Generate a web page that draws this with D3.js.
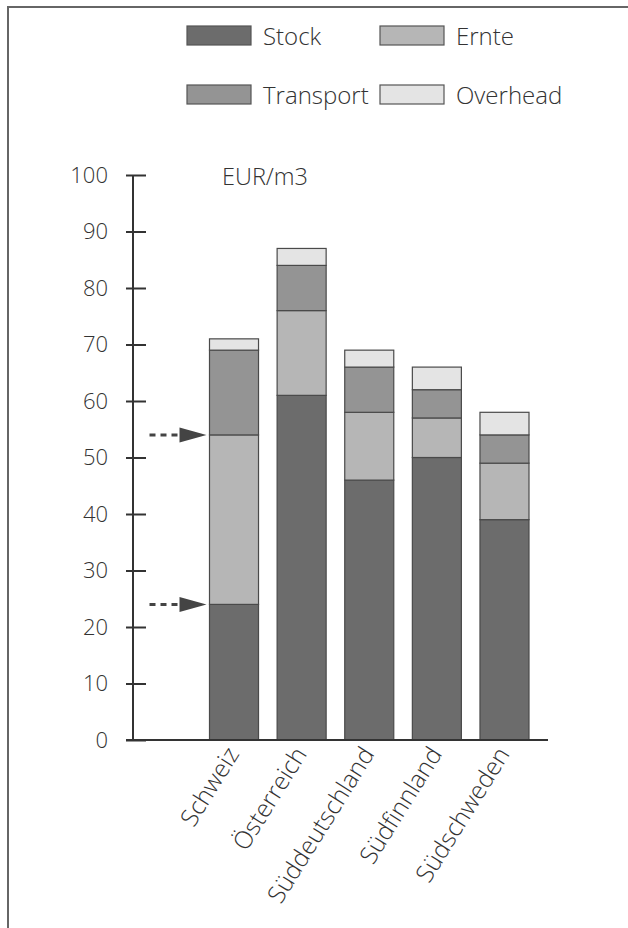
<!DOCTYPE html>
<html>
<head>
<meta charset="utf-8">
<script src="https://cdn.jsdelivr.net/npm/d3@7"></script>
<style>
  body { margin: 0; background: #fff; }
  svg { display: block; font-family: "Open Sans", sans-serif; font-weight: 300; }
</style>
</head>
<body>
<svg id="chart"></svg>
<script>
let w = 628;
let h = 928;

// data (EUR/m3)
let countries = ['Schweiz', 'Österreich', 'Süddeutschland', 'Südfinnland', 'Südschweden'];
let stock = [24, 61, 46, 50, 39];
let ernte = [30, 15, 12, 7, 10];
let transport = [15, 8, 8, 5, 5];
let overhead = [2, 3, 3, 4, 4];
let seriesNames = ['Stock', 'Ernte', 'Transport', 'Overhead'];
let yTicks = [0, 10, 20, 30, 40, 50, 60, 70, 80, 90, 100];
let arrowValues = [24, 54];
let unitLabel = 'EUR/m3';

let colors = {
  Stock: '#6c6c6c',
  Ernte: '#b6b6b6',
  Transport: '#949494',
  Overhead: '#e4e4e4'
};

let dataset = countries.map((c, i) => ({
  country: c,
  Stock: stock[i],
  Ernte: ernte[i],
  Transport: transport[i],
  Overhead: overhead[i]
}));

let svg = d3.select('#chart').attr('width', w).attr('height', h);

// frame (only top + left visible in the scan)
svg.append('rect')
  .attr('x', 8).attr('y', 7)
  .attr('width', 700).attr('height', 1000)
  .attr('fill', 'none')
  .attr('stroke', '#666')
  .attr('stroke-width', 2);

let axisX = 133;
let xScale = d3.scaleBand()
  .domain(countries)
  .range([209.5, 529])
  .paddingInner(0.275)
  .paddingOuter(0);

let yScale = d3.scaleLinear()
  .domain([0, 100])
  .range([740, 175]);

let stackGen = d3.stack().keys(seriesNames);
let layers = stackGen(dataset);

// bars
svg.selectAll('g.layer')
  .data(layers)
  .enter()
  .append('g')
  .attr('class', 'layer')
  .attr('fill', (d) => colors[d.key])
  .selectAll('rect')
  .data((d) => d)
  .enter()
  .append('rect')
  .attr('x', (d) => xScale(d.data.country))
  .attr('y', (d) => yScale(d[1]))
  .attr('width', xScale.bandwidth())
  .attr('height', (d) => yScale(d[0]) - yScale(d[1]))
  .attr('stroke', '#4a4a4a')
  .attr('stroke-width', 1.2);

// Y axis
let yAxis = d3.axisLeft(yScale).tickValues(yTicks).tickSize(7);
let yAxisGroup = svg.append('g')
  .attr('transform', `translate(${axisX},0)`)
  .call(yAxis);
yAxisGroup.select('.domain').remove();
yAxisGroup.selectAll('.tick line')
  .attr('x1', -7).attr('x2', 13)
  .attr('stroke', '#333').attr('stroke-width', 2);
yAxisGroup.selectAll('.tick text')
  .attr('x', -25)
  .attr('fill', '#333')
  .style('font-family', '"Open Sans", sans-serif')
  .style('font-weight', 300)
  .style('font-size', '22px');
yAxisGroup.append('line')
  .attr('x1', 0).attr('x2', 0)
  .attr('y1', yScale(100)).attr('y2', yScale(0))
  .attr('stroke', '#333').attr('stroke-width', 2);

// X axis
let xAxis = d3.axisBottom(xScale).tickSize(0);
let xAxisGroup = svg.append('g')
  .attr('transform', `translate(0, ${yScale(0)})`)
  .call(xAxis);
xAxisGroup.select('.domain').remove();
xAxisGroup.append('line')
  .attr('x1', axisX - 7).attr('x2', 548)
  .attr('y1', 0).attr('y2', 0)
  .attr('stroke', '#333').attr('stroke-width', 2);
xAxisGroup.selectAll('.tick text')
  .attr('text-anchor', 'end')
  .attr('x', 0).attr('y', 0).attr('dy', 0)
  .attr('transform', 'translate(6,14) rotate(-58)')
  .attr('fill', '#333')
  .style('font-family', '"Open Sans", sans-serif')
  .style('font-weight', 300)
  .style('font-size', '24.5px');

// unit label
svg.append('text')
  .attr('x', 222)
  .attr('y', yScale(100) + 10)
  .attr('fill', '#333')
  .style('font-size', '23.5px')
  .text(unitLabel);

// arrows pointing at the Schweiz bar
let barLeft = xScale(countries[0]);
let arrows = svg.selectAll('g.arrow')
  .data(arrowValues)
  .enter()
  .append('g')
  .attr('class', 'arrow')
  .attr('transform', (d) => `translate(${barLeft - 3}, ${yScale(d)})`);
arrows.append('line')
  .attr('x1', -57).attr('x2', -27)
  .attr('y1', 0).attr('y2', 0)
  .attr('stroke', '#444').attr('stroke-width', 3)
  .attr('stroke-dasharray', '6,5');
arrows.append('path')
  .attr('d', 'M-27,-7.5 L0,0 L-27,7.5 Z')
  .attr('fill', '#444');

// legend
let legendPos = [[187, 26], [380, 26], [187, 85], [380, 85]];
let legend = svg.selectAll('g.legend')
  .data(seriesNames)
  .enter()
  .append('g')
  .attr('class', 'legend')
  .attr('transform', (d, i) => `translate(${legendPos[i][0]}, ${legendPos[i][1]})`);
legend.append('rect')
  .attr('width', 64).attr('height', 19)
  .attr('fill', (d) => colors[d])
  .attr('stroke', '#555').attr('stroke-width', 1.2);
legend.append('text')
  .attr('x', 76).attr('y', 19)
  .attr('fill', '#333')
  .style('font-size', '24px')
  .text((d) => d);
</script>
</body>
</html>
